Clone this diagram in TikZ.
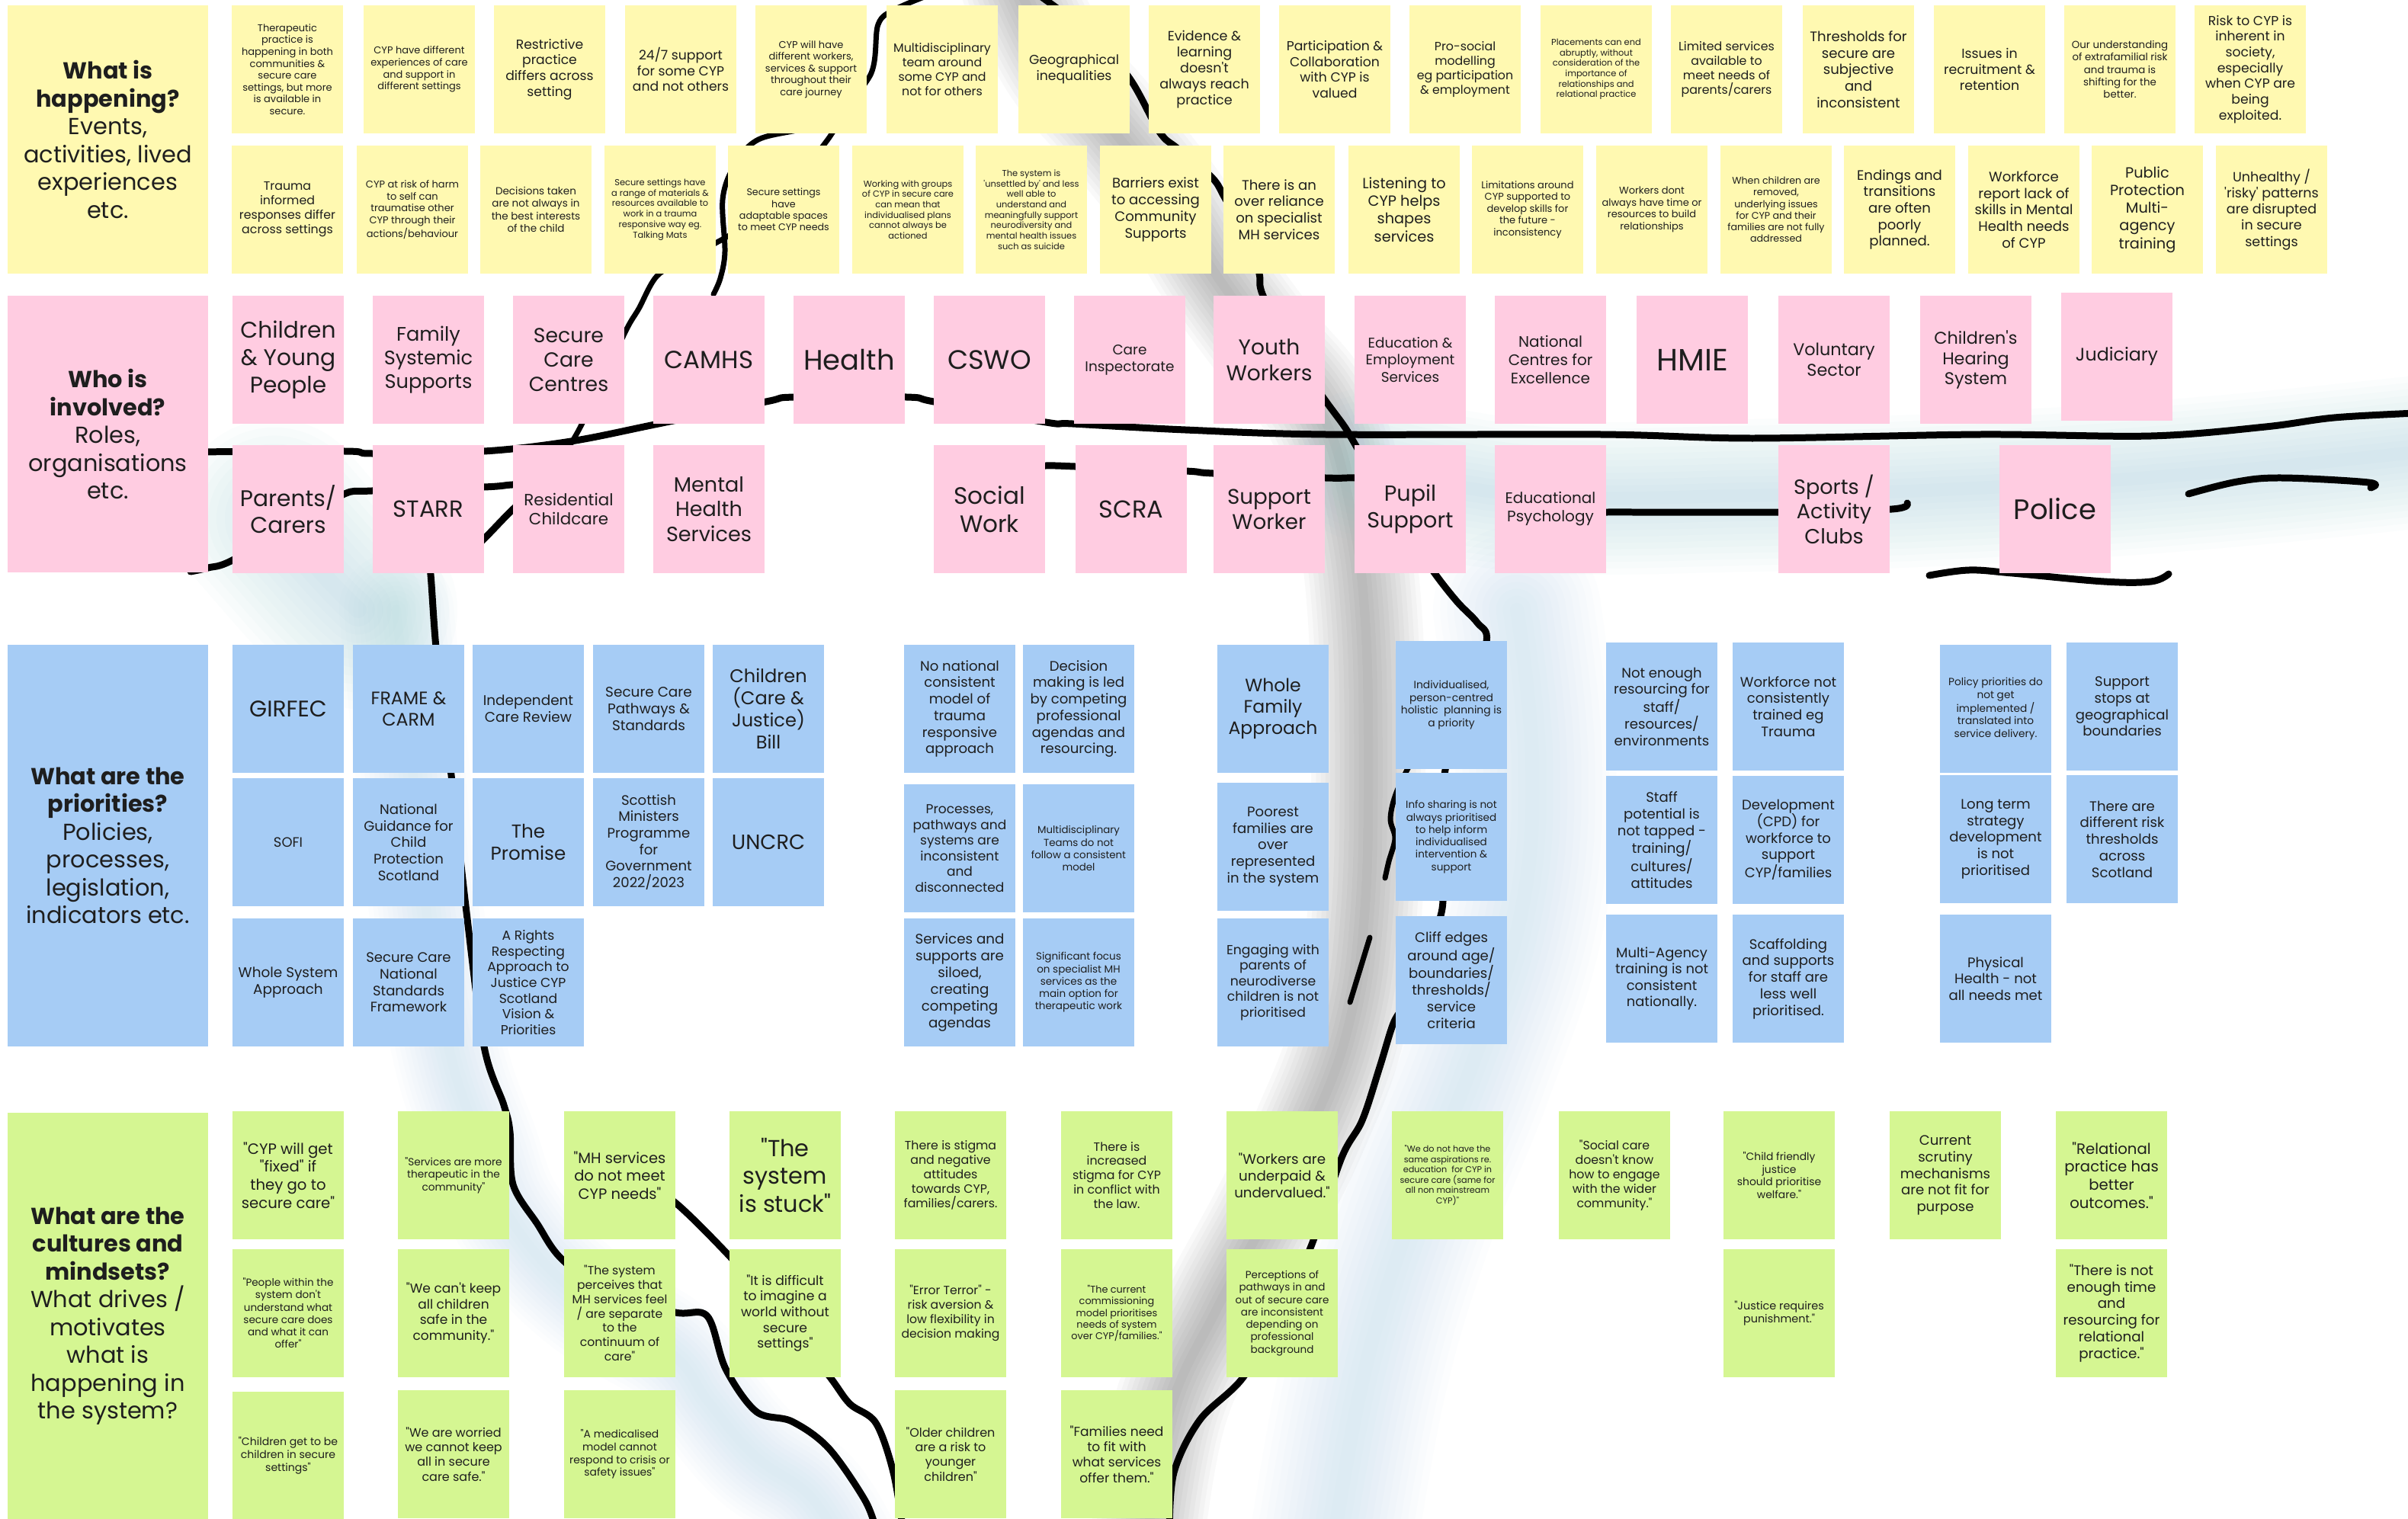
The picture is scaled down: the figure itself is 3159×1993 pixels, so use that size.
\documentclass[tikz,border=0pt]{standalone}
\usepackage{fontspec}
\setmainfont{Poppins}[Ligatures=TeXOff]
\definecolor{ycol}{HTML}{FFF9B1}
\definecolor{pcol}{HTML}{FFCCE1}
\definecolor{bcol}{HTML}{A6CCF5}
\definecolor{gcol}{HTML}{D5F692}
\definecolor{txt}{HTML}{1E1E1E}
\definecolor{riverblue}{HTML}{8CC6D6}
\newcommand\fsz[1]{\fontsize{#1pt}{\dimexpr #1pt*120/100\relax}\selectfont}
\newcommand\stk[6]{\node[stk,fill=#2,font=\fsz{#5}] (#1) at ({#3+73},{#4+84}) {#6};}
\newcommand\soft[4]{%
  \foreach \k in {1,...,12}{%
    \pgfmathsetmacro\lw{#2*\k/12*0.569}%
    \draw[#1, opacity=#3, line width=\lw pt, line cap=round, line join=round] plot[smooth, tension=0.7] coordinates {#4};
  }}
\tikzset{
  stk/.style={rectangle, inner sep=0pt, minimum width=2.92cm, minimum height=3.36cm, align=center, text=txt},
  hdr/.style={rectangle, inner sep=0pt, minimum width=5.26cm, align=center, text=txt, font=\fsz{17.3}},
  ink/.style={black, line width=0.18cm, line cap=round, line join=round},
  thinink/.style={black, line width=0.14cm, line cap=round, line join=round}
}
\begin{document}
\begin{tikzpicture}[x=0.02cm,y=-0.02cm]
\useasboundingbox (0,0) rectangle (3159,1993);
\clip (0,0) rectangle (3159,1993);
\fill[white] (0,0) rectangle (3159,1993);

% ---------- soft shading ----------
\soft{black}{150}{0.022}{(1335,-20) (1385,80) (1455,165) (1535,265) (1595,360) (1665,455) (1735,545) (1770,660) (1790,800) (1795,1000) (1790,1200) (1768,1350) (1720,1480) (1660,1600) (1595,1720) (1535,1850) (1505,2020)}
\soft{riverblue}{220}{0.025}{(1990,800) (2010,1000) (1995,1200) (1930,1400) (1850,1600) (1790,1800) (1750,2020)}
\soft{riverblue}{200}{0.03}{(1790,610) (2000,650) (2300,650) (2600,640) (2900,620) (3200,590)}
\soft{riverblue}{260}{0.03}{(360,680) (430,760) (470,800)}
\soft{riverblue}{150}{0.025}{(520,800) (540,1000) (560,1200) (590,1380) (630,1500) (670,1600) (760,1700) (880,1775) (930,1840) (990,1910) (1060,1960) (1100,2020)}

% ---------- hand drawn lines ----------
\draw[thinink] plot[smooth, tension=0.55] coordinates {(1215,-5) (1175,12) (1152,32) (1141,100) (1080,160) (995,183) (962,220) (948,262) (951,330) (945,365) (936,386)};
\draw[thinink] plot[smooth, tension=0.55] coordinates {(1125,110) (1086,183) (1000,280) (900,340) (862,362) (838,405) (822,432) (790,500) (763,557) (749,582)};
\draw[ink] plot[smooth, tension=0.55] coordinates {(250,593) (452,592) (488,595) (635,592) (749,579) (859,557) (1005,527) (1042,521) (1189,521) (1225,527) (1372,554) (1407,556) (1555,564) (1739,570) (2100,570) (2299,575) (2598,570) (2822,572) (2972,560) (3062,548) (3170,542)};
\draw[ink] plot[smooth, tension=0.55] coordinates {(1300,613) (1372,611) (1410,612) (1555,618) (1591,621) (1739,627) (1777,627) (1840,630)};
\draw[ink] plot[smooth, tension=0.55] coordinates {(2040,673) (2108,672) (2333,672) (2482,668) (2502,660)};
\draw[ink] plot[smooth, tension=0.55] coordinates {(250,750) (273,745) (305,735) (400,680) (452,648) (488,644) (635,639) (672,636) (720,634)};
\draw[ink] plot[smooth, tension=0.55] coordinates {(600,740) (635,707) (672,669) (705,640)};
\draw[ink] plot[smooth, tension=0.55] coordinates {(560,720) (565,754) (573,860) (592,1017) (612,1197) (635,1373) (661,1450) (669,1485) (673,1554) (705,1606) (736,1651) (800,1700) (886,1722) (928,1727) (952,1796) (992,1852) (1039,1865) (1087,1900) (1135,1969) (1150,2010)};
\draw[ink] plot[smooth, tension=0.55] coordinates {(850,1560) (886,1578) (956,1647) (1030,1730) (1089,1807) (1115,1842) (1149,1867) (1172,1932) (1185,2010)};
\draw[ink] plot[smooth, tension=0.55] coordinates {(1365,-5) (1430,45) (1482,103) (1521,173) (1545,195) (1590,233) (1607,260) (1640,320) (1652,359) (1657,388) (1700,470) (1739,526) (1764,560) (1780,587) (1840,690) (1882,752) (1912,790) (1938,817) (1950,842) (1920,930) (1896,1010) (1890,1100) (1892,1192) (1865,1260) (1840,1320) (1827,1345) (1810,1400) (1787,1470) (1760,1519) (1720,1635) (1680,1720) (1631,1807) (1574,1863) (1540,1932) (1534,2010)};
\draw[thinink] plot[smooth, tension=0.55] coordinates {(1880,950) (1846,1010) (1830,1045) (1824,1075) (1830,1100) (1822,1130) (1817,1152)};
\draw[thinink] (1797,1230) -- (1771,1315);
\draw[ink] plot[smooth, tension=0.6] coordinates {(2871,648) (2935,632) (2994,627) (3107,633) (3110,640)};
\draw[ink] plot[smooth, tension=0.6] coordinates {(2531,755) (2583,748) (2640,752) (2760,763) (2822,763) (2845,753)};

% ---------- headers ----------
\node[hdr, fill=ycol, minimum height=7.04cm] (hy) at (141.5,183) {\textbf{What is}\\\textbf{happening?}\\Events,\\activities, lived\\experiences\\etc.};
\node[hdr, fill=pcol, minimum height=7.26cm] (hp) at (141.5,569.5) {\textbf{Who is}\\\textbf{involved?}\\Roles,\\organisations\\etc.};
\node[hdr, fill=bcol, minimum height=10.54cm] (hb) at (141.5,1109.5) {\textbf{What are the}\\\textbf{priorities?}\\Policies,\\processes,\\legislation,\\indicators etc.};
\node[hdr, fill=gcol, minimum height=10.66cm] (hg) at (141.5,1726.5) {\textbf{What are the}\\\textbf{cultures and}\\\textbf{mindsets?}\\What drives /\\motivates\\what is\\happening in\\the system?};

% ---------- yellow top row ----------
\stk{y1}{ycol}{304}{7}{7.4}{Therapeutic\\practice is\\happening in both\\communities \&\\secure care\\settings, but more\\is available in\\secure.}
\stk{y2}{ycol}{477}{7}{7.4}{CYP have different\\experiences of care\\and support in\\different settings}
\stk{y3}{ycol}{648}{7}{9.8}{Restrictive\\practice\\differs across\\setting}
\stk{y4}{ycol}{820}{7}{9.8}{24/7 support\\for some CYP\\and not others}
\stk{y5}{ycol}{991}{7}{7.4}{CYP will have\\different workers,\\services \& support\\throughout their\\care journey}
\stk{y6}{ycol}{1163}{7}{9.0}{Multidisciplinary\\team around\\some CYP and\\not for others}
\stk{y7}{ycol}{1336}{7}{9.8}{Geographical\\inequalities}
\stk{y8}{ycol}{1507}{7}{10}{Evidence \&\\learning\\doesn't\\always reach\\practice}
\stk{y9}{ycol}{1678}{7}{9.8}{Participation \&\\Collaboration\\with CYP is\\valued}
\stk{y10}{ycol}{1849}{7}{9.0}{Pro-social\\modelling\\eg participation\\\& employment}
\stk{y11}{ycol}{2021}{7}{6.5}{Placements can end\\abruptly, without\\consideration of the\\importance of\\relationships and\\relational practice}
\stk{y12}{ycol}{2192}{7}{9.0}{Limited services\\available to\\meet needs of\\parents/carers}
\stk{y13}{ycol}{2365}{7}{10.3}{Thresholds for\\secure are\\subjective\\and\\inconsistent}
\stk{y14}{ycol}{2537}{7}{9.9}{Issues in\\recruitment \&\\retention}
\stk{y15}{ycol}{2708}{7}{7.6}{Our understanding\\of extrafamilial risk\\and trauma is\\shifting for the\\better.}
\stk{y16}{ycol}{2879}{7}{9.8}{Risk to CYP is\\inherent in\\society,\\especially\\when CYP are\\being\\exploited.}

% ---------- yellow second row ----------
\stk{z1}{ycol}{304}{191}{9.0}{Trauma\\informed\\responses differ\\across settings}
\stk{z2}{ycol}{468}{191}{7.4}{CYP at risk of harm\\to self can\\traumatise other\\CYP through their\\actions/behaviour}
\stk{z3}{ycol}{630}{191}{7.7}{Decisions taken\\are not always in\\the best interests\\of the child}
\stk{z4}{ycol}{793}{191}{6.5}{Secure settings have\\a range of materials \&\\resources available to\\work in a trauma\\responsive way eg.\\Talking Mats}
\stk{z5}{ycol}{955}{191}{7.2}{Secure settings\\have\\adaptable spaces\\to meet CYP needs}
\stk{z6}{ycol}{1118}{191}{6.5}{Working with groups\\of CYP in secure care\\can mean that\\individualised plans\\cannot always be\\actioned}
\stk{z7}{ycol}{1280}{191}{6.5}{The system is\\'unsettled by' and less\\well able to\\understand and\\meaningfully support\\neurodiversity and\\mental health issues\\such as suicide}
\stk{z8}{ycol}{1443}{191}{10.3}{Barriers exist\\to accessing\\Community\\Supports}
\stk{z9}{ycol}{1605}{191}{10.3}{There is an\\over reliance\\on specialist\\MH services}
\stk{z10}{ycol}{1769}{191}{11}{Listening to\\CYP helps\\shapes\\services}
\stk{z11}{ycol}{1931}{191}{7.4}{Limitations around\\CYP supported to\\develop skills for\\the future -\\inconsistency}
\stk{z12}{ycol}{2094}{191}{7.4}{Workers dont\\always have time or\\resources to build\\relationships}
\stk{z13}{ycol}{2257}{191}{7.2}{When children are\\removed,\\underlying issues\\for CYP and their\\families are not fully\\addressed}
\stk{z14}{ycol}{2419}{191}{10.3}{Endings and\\transitions\\are often\\poorly\\planned.}
\stk{z15}{ycol}{2582}{191}{10.3}{Workforce\\report lack of\\skills in Mental\\Health needs\\of CYP}
\stk{z16}{ycol}{2744}{191}{11}{Public\\Protection\\Multi-\\agency\\training}
\stk{z17}{ycol}{2907}{191}{10}{Unhealthy /\\'risky' patterns\\are disrupted\\in secure\\settings}

% ---------- pink ----------
\stk{p1}{pcol}{305}{388}{16.9}{Children\\\& Young\\People}
\stk{p2}{pcol}{489}{388}{14.6}{Family\\Systemic\\Supports}
\stk{p3}{pcol}{673}{388}{15.2}{Secure\\Care\\Centres}
\stk{p4}{pcol}{857}{388}{18.5}{CAMHS}
\stk{p5}{pcol}{1041}{388}{21}{Health}
\stk{p6}{pcol}{1225}{388}{20}{CSWO}
\stk{p7}{pcol}{1409}{388}{10.5}{Care\\Inspectorate}
\stk{p8}{pcol}{1592}{388}{16}{Youth\\Workers}
\stk{p9}{pcol}{1777}{388}{10.5}{Education \&\\Employment\\Services}
\stk{p10}{pcol}{1961}{388}{11.4}{National\\Centres for\\Excellence}
\stk{p11}{pcol}{2147}{388}{23}{HMIE}
\stk{p12}{pcol}{2333}{388}{12.7}{Voluntary\\Sector}
\stk{p13}{pcol}{2519}{388}{12.7}{Children's\\Hearing\\System}
\stk{p14}{pcol}{2704}{384}{13.5}{Judiciary}
\stk{q1}{pcol}{305}{584}{16.9}{Parents/\\Carers}
\stk{q2}{pcol}{489}{584}{17.4}{STARR}
\stk{q3}{pcol}{673}{584}{12.2}{Residential\\Childcare}
\stk{q4}{pcol}{857}{584}{15.4}{Mental\\Health\\Services}
\stk{q5}{pcol}{1225}{584}{17.7}{Social\\Work}
\stk{q6}{pcol}{1411}{584}{18.2}{SCRA}
\stk{q7}{pcol}{1592}{584}{15.8}{Support\\Worker}
\stk{q8}{pcol}{1777}{584}{16.3}{Pupil\\Support}
\stk{q9}{pcol}{1961}{584}{11.4}{Educational\\Psychology}
\stk{q10}{pcol}{2333}{584}{15.4}{Sports /\\Activity\\Clubs}
\stk{q11}{pcol}{2623}{584}{21}{Police}

% ---------- blue ----------
\stk{b1}{bcol}{305}{846}{16.9}{GIRFEC}
\stk{b2}{bcol}{463}{846}{13.5}{FRAME \&\\CARM}
\stk{b3}{bcol}{620}{846}{10.5}{Independent\\Care Review}
\stk{b4}{bcol}{778}{846}{10.5}{Secure Care\\Pathways \&\\Standards}
\stk{b5}{bcol}{935}{846}{13.7}{Children\\(Care \&\\Justice)\\Bill}
\stk{b6}{bcol}{305}{1021}{10.2}{SOFI}
\stk{b7}{bcol}{463}{1021}{10.3}{National\\Guidance for\\Child\\Protection\\Scotland}
\stk{b8}{bcol}{620}{1021}{14}{The\\Promise}
\stk{b9}{bcol}{778}{1021}{10.3}{Scottish\\Ministers\\Programme\\for\\Government\\2022/2023}
\stk{b10}{bcol}{935}{1021}{15.5}{UNCRC}
\stk{b11}{bcol}{305}{1205}{10.5}{Whole System\\Approach}
\stk{b12}{bcol}{463}{1205}{10.3}{Secure Care\\National\\Standards\\Framework}
\stk{b13}{bcol}{620}{1205}{9.8}{A Rights\\Respecting\\Approach to\\Justice CYP\\Scotland\\Vision \&\\Priorities}
\stk{b14}{bcol}{1186}{846}{10.3}{No national\\consistent\\model of\\trauma\\responsive\\approach}
\stk{b15}{bcol}{1342}{846}{10.3}{Decision\\making is led\\by competing\\professional\\agendas and\\resourcing.}
\stk{b16}{bcol}{1186}{1029}{9.7}{Processes,\\pathways and\\systems are\\inconsistent\\and\\disconnected}
\stk{b17}{bcol}{1342}{1029}{7.6}{Multidisciplinary\\Teams do not\\follow a consistent\\model}
\stk{b18}{bcol}{1186}{1205}{10.4}{Services and\\supports are\\siloed,\\creating\\competing\\agendas}
\stk{b19}{bcol}{1342}{1205}{7.7}{Significant focus\\on specialist MH\\services as the\\main option for\\therapeutic work}
\stk{b20}{bcol}{1597}{846}{13.4}{Whole\\Family\\Approach}
\stk{b21}{bcol}{1597}{1027}{10.3}{Poorest\\families are\\over\\represented\\in the system}
\stk{b22}{bcol}{1597}{1205}{9.8}{Engaging with\\parents of\\neurodiverse\\children is not\\prioritised}
\stk{b23}{bcol}{1831}{841}{7.9}{Individualised,\\person-centred\\holistic\ \ planning is\\a priority}
\stk{b24}{bcol}{1831}{1014}{7.7}{Info sharing is not\\always prioritised\\to help inform\\individualised\\intervention \&\\support}
\stk{b25}{bcol}{1831}{1202}{10.3}{Cliff edges\\around age/\\boundaries/\\thresholds/\\service\\criteria}
\stk{b26}{bcol}{2107}{843}{10.3}{Not enough\\resourcing for\\staff/\\resources/\\environments}
\stk{b27}{bcol}{2273}{843}{10.3}{Workforce not\\consistently\\trained eg\\Trauma}
\stk{b28}{bcol}{2107}{1018}{10.3}{Staff\\potential is\\not tapped -\\training/\\cultures/\\attitudes}
\stk{b29}{bcol}{2273}{1018}{10.3}{Development\\(CPD) for\\workforce to\\support\\CYP/families}
\stk{b30}{bcol}{2107}{1200}{10.2}{Multi-Agency\\training is not\\consistent\\nationally.}
\stk{b31}{bcol}{2273}{1200}{10.3}{Scaffolding\\and supports\\for staff are\\less well\\prioritised.}
\stk{b32}{bcol}{2545}{846}{7.8}{Policy priorities do\\not get\\implemented /\\translated into\\service delivery.}
\stk{b33}{bcol}{2711}{843}{10.3}{Support\\stops at\\geographical\\boundaries}
\stk{b34}{bcol}{2545}{1017}{10.3}{Long term\\strategy\\development\\is not\\prioritised}
\stk{b35}{bcol}{2711}{1017}{10.3}{There are\\different risk\\thresholds\\across\\Scotland}
\stk{b36}{bcol}{2545}{1200}{10.3}{Physical\\Health - not\\all needs met}

% ---------- green ----------
\stk{g1}{gcol}{305}{1458}{11.2}{"CYP will get\\"fixed" if\\they go to\\secure care"}
\stk{g2}{gcol}{305}{1639}{7.7}{"People within the\\system don't\\understand what\\secure care does\\and what it can\\offer"}
\stk{g3}{gcol}{305}{1826}{8}{"Children get to be\\children in secure\\settings"}
\stk{g4}{gcol}{522}{1458}{7.8}{"Services are more\\therapeutic in the\\community"}
\stk{g5}{gcol}{522}{1639}{9.7}{"We can't keep\\all children\\safe in the\\community."}
\stk{g6}{gcol}{522}{1824}{9.1}{"We are worried\\we cannot keep\\all in secure\\care safe."}
\stk{g7}{gcol}{740}{1458}{11.1}{"MH services\\do not meet\\CYP needs"}
\stk{g8}{gcol}{740}{1639}{8.9}{"The system\\perceives that\\MH services feel\\/ are separate\\to the\\continuum of\\care"}
\stk{g9}{gcol}{740}{1824}{7.9}{"A medicalised\\model cannot\\respond to crisis or\\safety issues"}
\stk{g10}{gcol}{957}{1458}{17.3}{"The\\system\\is stuck"}
\stk{g11}{gcol}{957}{1639}{9.8}{"It is difficult\\to imagine a\\world without\\secure\\settings"}
\stk{g12}{gcol}{1174}{1458}{9.0}{There is stigma\\and negative\\attitudes\\towards CYP,\\families/carers.}
\stk{g13}{gcol}{1174}{1639}{8.9}{"Error Terror" -\\risk aversion \&\\low flexibility in\\decision making}
\stk{g14}{gcol}{1174}{1824}{9.1}{"Older children\\are a risk to\\younger\\children"}
\stk{g15}{gcol}{1392}{1458}{9.0}{There is\\increased\\stigma for CYP\\in conflict with\\the law.}
\stk{g16}{gcol}{1392}{1639}{7.3}{"The current\\commissioning\\model prioritises\\needs of system\\over CYP/families."}
\stk{g17}{gcol}{1392}{1824}{9.7}{"Families need\\to fit with\\what services\\offer them."}
\stk{g18}{gcol}{1609}{1458}{10.4}{"Workers are\\underpaid \&\\undervalued."}
\stk{g19}{gcol}{1609}{1639}{7.7}{Perceptions of\\pathways in and\\out of secure care\\are inconsistent\\depending on\\professional\\background}
\stk{g20}{gcol}{1826}{1458}{6.4}{"We do not have the\\same aspirations re.\\education\ \ for CYP in\\secure care (same for\\all non mainstream\\CYP)"}
\stk{g21}{gcol}{2045}{1458}{9.0}{"Social care\\doesn't know\\how to engage\\with the wider\\community."}
\stk{g22}{gcol}{2261}{1458}{7.9}{"Child friendly\\justice\\should prioritise\\welfare."}
\stk{g23}{gcol}{2261}{1639}{8.2}{"Justice requires\\punishment."}
\stk{g24}{gcol}{2479}{1458}{10.3}{Current\\scrutiny\\mechanisms\\are not fit for\\purpose}
\stk{g25}{gcol}{2697}{1458}{11.2}{"Relational\\practice has\\better\\outcomes."}
\stk{g26}{gcol}{2697}{1639}{10.4}{"There is not\\enough time\\and\\resourcing for\\relational\\practice."}
\end{tikzpicture}
\end{document}
